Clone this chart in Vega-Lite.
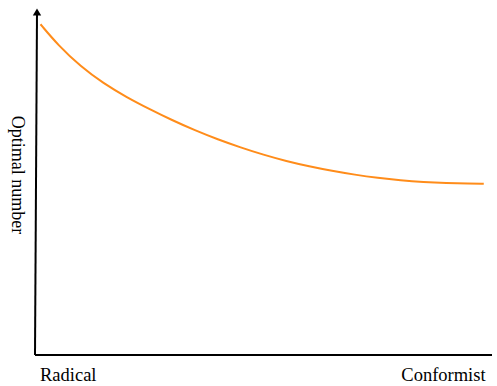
{
  "$schema": "https://vega.github.io/schema/vega-lite/v6.json",
  "width": 457,
  "height": 350,
  "autosize": {"type": "none"},
  "padding": {"left": 35, "top": 5, "right": 5, "bottom": 31},
  "background": "white",
  "config": {"view": {"stroke": null}},
  "datasets": {
    "curve": [
      {"x": 1.2, "y": 94.5},
      {"x": 5, "y": 88.6},
      {"x": 10, "y": 82.4},
      {"x": 15, "y": 77.6},
      {"x": 20, "y": 73.7},
      {"x": 25, "y": 70.3},
      {"x": 30, "y": 67.1},
      {"x": 35, "y": 64.2},
      {"x": 40, "y": 61.6},
      {"x": 45, "y": 59.3},
      {"x": 50, "y": 57.2},
      {"x": 55, "y": 55.4},
      {"x": 60, "y": 53.9},
      {"x": 65, "y": 52.6},
      {"x": 70, "y": 51.5},
      {"x": 75, "y": 50.6},
      {"x": 80, "y": 49.9},
      {"x": 85, "y": 49.4},
      {"x": 90, "y": 49.1},
      {"x": 95, "y": 48.95},
      {"x": 98.2, "y": 48.9}
    ],
    "yaxis": [{"x": 0, "y": 0, "x2": 0.44, "y2": 98.3}],
    "xaxis": [{"x": 0, "y": 0, "x2": 100, "y2": 0}],
    "arrow": [{"x": 0.44, "y": 98.0}],
    "left": [{"x": 1.09, "y": -7.43, "text": "Radical"}],
    "right": [{"x": 98.6, "y": -7.43, "text": "Conformist"}],
    "ytitle": [{"x": -3.95, "y": 51.4, "text": "Optimal number"}]
  },
  "layer": [
    {
      "data": {"name": "curve"},
      "mark": {"type": "line", "color": "#FF8C1A", "strokeWidth": 2, "interpolate": "basis"},
      "encoding": {
        "x": {"field": "x", "type": "quantitative", "scale": {"domain": [0, 100]}, "axis": null},
        "y": {"field": "y", "type": "quantitative", "scale": {"domain": [0, 100]}, "axis": null}
      }
    },
    {
      "data": {"name": "yaxis"},
      "mark": {"type": "rule", "color": "black", "strokeWidth": 2},
      "encoding": {
        "x": {"field": "x", "type": "quantitative"},
        "y": {"field": "y", "type": "quantitative"},
        "x2": {"field": "x2"},
        "y2": {"field": "y2"}
      }
    },
    {
      "data": {"name": "xaxis"},
      "mark": {"type": "rule", "color": "black", "strokeWidth": 2},
      "encoding": {
        "x": {"field": "x", "type": "quantitative"},
        "y": {"field": "y", "type": "quantitative"},
        "x2": {"field": "x2"},
        "y2": {"field": "y2"}
      }
    },
    {
      "data": {"name": "arrow"},
      "mark": {"type": "point", "shape": "triangle-up", "filled": true, "color": "black", "size": 70, "opacity": 1},
      "encoding": {
        "x": {"field": "x", "type": "quantitative"},
        "y": {"field": "y", "type": "quantitative"}
      }
    },
    {
      "data": {"name": "left"},
      "mark": {"type": "text", "font": "Liberation Serif", "fontSize": 18.5, "color": "black", "baseline": "alphabetic", "align": "left"},
      "encoding": {
        "x": {"field": "x", "type": "quantitative"},
        "y": {"field": "y", "type": "quantitative"},
        "text": {"field": "text"}
      }
    },
    {
      "data": {"name": "right"},
      "mark": {"type": "text", "font": "Liberation Serif", "fontSize": 18.5, "color": "black", "baseline": "alphabetic", "align": "right"},
      "encoding": {
        "x": {"field": "x", "type": "quantitative"},
        "y": {"field": "y", "type": "quantitative"},
        "text": {"field": "text"}
      }
    },
    {
      "data": {"name": "ytitle"},
      "mark": {"type": "text", "font": "Liberation Serif", "fontSize": 18, "color": "black", "angle": 90, "align": "center", "baseline": "middle"},
      "encoding": {
        "x": {"field": "x", "type": "quantitative"},
        "y": {"field": "y", "type": "quantitative"},
        "text": {"field": "text"}
      }
    }
  ]
}
